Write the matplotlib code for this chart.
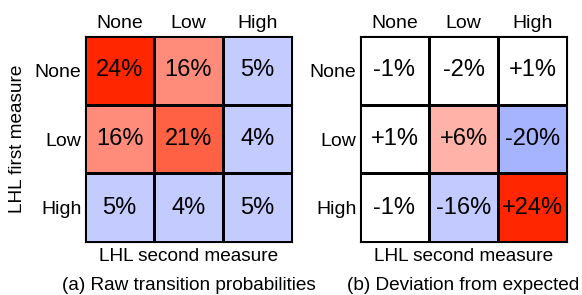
import numpy as np
import matplotlib
matplotlib.use("Agg")
import matplotlib.pyplot as plt
from matplotlib.colors import LinearSegmentedColormap, Normalize

plt.rcParams['font.family'] = ['Liberation Sans', 'DejaVu Sans']

levels = ["None", "Low", "High"]

# raw transition probabilities (%), rows = first measure, cols = second measure
raw = np.array([[24, 16, 5],
                [16, 21, 4],
                [5, 4, 5]])

# deviation from expected (%)
dev = np.array([[-1, -2, 1],
                [1, 6, -20],
                [-1, -16, 24]])

raw_labels = ["{}%".format(v) for v in raw.ravel()]
dev_labels = ["{:+d}%".format(v) for v in dev.ravel()]

# colour maps
cmap_raw = LinearSegmentedColormap.from_list("raw", [
    (0.0, "#c3cbff"), (5 / 24, "#c3cbff"), (16 / 24, "#ff8c7a"),
    (21 / 24, "#ff6347"), (1.0, "#ff2600")])
cmap_dev = LinearSegmentedColormap.from_list("dev", [
    (0.0, "#8c9cff"), (4 / 48, "#a6b4ff"), (8 / 48, "#c3cbff"), (21 / 48, "#ffffff"),
    (27 / 48, "#ffffff"), (30 / 48, "#ffb3a8"), (1.0, "#ff2600")])

fig = plt.figure(figsize=(5.82, 2.95), dpi=100)
ax1 = fig.add_axes([85 / 582, 53 / 295, 207 / 582, 206 / 295])
ax2 = fig.add_axes([360 / 582, 53 / 295, 207 / 582, 206 / 295])


def draw(ax, data, labels, cmap, norm, caption):
    ax.pcolormesh(data, cmap=cmap, norm=norm, edgecolors="black", linewidth=0.8)
    ax.set_xlim(0, 3)
    ax.set_ylim(3, 0)
    for k, txt in enumerate(labels):
        i, j = divmod(k, 3)
        ax.text(j + 0.5, i + 0.5, txt, ha="center", va="center", fontsize=17)
    ax.xaxis.tick_top()
    ax.set_xticks(np.arange(3) + 0.5)
    ax.set_xticklabels(levels, fontsize=14)
    ax.set_yticks(np.arange(3) + 0.5)
    ax.set_yticklabels(levels, fontsize=14)
    ax.tick_params(axis="x", length=0, pad=3)
    ax.tick_params(axis="y", length=0, pad=2.5)
    for s in ax.spines.values():
        s.set_linewidth(0.8)
    ax.set_xlabel("LHL second measure", fontsize=13.7, labelpad=4)
    ax.text(0.5, -0.21, caption, transform=ax.transAxes, ha="center",
            va="center", fontsize=13.7)


draw(ax1, raw, raw_labels, cmap_raw, Normalize(0, 24), "(a) Raw transition probabilities")
draw(ax2, dev, dev_labels, cmap_dev, Normalize(-24, 24), "(b) Deviation from expected")
ax1.set_ylabel("LHL first measure", fontsize=13.7, labelpad=6)

fig.savefig("out.png", dpi=100)
